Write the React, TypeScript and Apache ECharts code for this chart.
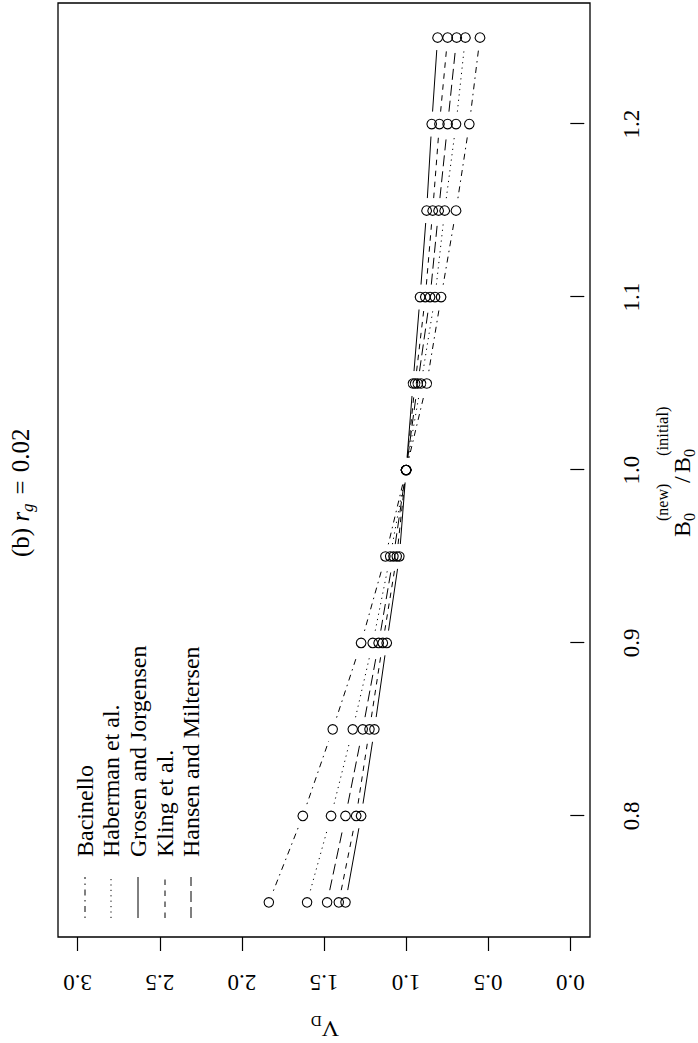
import React, { useEffect, useRef } from "react";
import * as echarts from "echarts";

// B0(new)/B0(initial) ratios on the horizontal axis
const ratio = [0.75, 0.8, 0.85, 0.9, 0.95, 1.0, 1.05, 1.1, 1.15, 1.2, 1.25];

// V_D for each model
const bacinello = [1.836, 1.629, 1.447, 1.274, 1.126, 1.0, 0.874, 0.787, 0.696, 0.615, 0.55];
const haberman = [1.603, 1.457, 1.325, 1.203, 1.097, 1.0, 0.909, 0.824, 0.765, 0.696, 0.639];
const grosen = [1.369, 1.274, 1.193, 1.118, 1.041, 1.0, 0.958, 0.915, 0.875, 0.844, 0.808];
const kling = [1.41, 1.304, 1.223, 1.142, 1.057, 1.0, 0.945, 0.883, 0.838, 0.797, 0.747];
const hansen = [1.481, 1.369, 1.264, 1.167, 1.077, 1.0, 0.929, 0.854, 0.802, 0.747, 0.692];

const modelNames = ["Bacinello", "Haberman et al.", "Grosen and Jorgensen", "Kling et al.", "Hansen and Miltersen"];

const xTicks = [0.8, 0.9, 1.0, 1.1, 1.2];
const yTicks = [0, 0.5, 1.0, 1.5, 2.0, 2.5, 3.0];

const FONT = "'Liberation Serif', 'Times New Roman', serif";
const GAP = 12.5; // line gap around each point (type "b")

// Chart is laid out landscape, then the whole page is turned a quarter turn
const CW = 1043;
const CH = 698;

const dashes: (number[] | null)[] = [
  [1.5, 4.5, 6, 4.5], // dot-dash
  [1.2, 4.2], // dotted
  null, // solid
  [5.5, 5.5], // dashed
  [11, 5], // long dash
];

function modelSeries(name: string, values: number[], dash: number[] | null) {
  const pts = ratio.map((r, i) => [r, values[i]]);
  return {
    type: "custom",
    name,
    coordinateSystem: "cartesian2d",
    data: pts,
    encode: { x: 0, y: 1 },
    silent: true,
    renderItem: (params: any, api: any) => {
      const i = params.dataIndex;
      const p = api.coord([api.value(0), api.value(1)]);
      const children: any[] = [
        {
          type: "circle",
          shape: { cx: p[0], cy: p[1], r: 4.8 },
          style: { fill: "none", stroke: "#000", lineWidth: 1.1 },
        },
      ];
      if (i < pts.length - 1) {
        const q = api.coord(pts[i + 1]);
        const dx = q[0] - p[0];
        const dy = q[1] - p[1];
        const len = Math.hypot(dx, dy);
        if (len > 2 * GAP) {
          const ux = dx / len;
          const uy = dy / len;
          children.push({
            type: "line",
            shape: {
              x1: p[0] + ux * GAP,
              y1: p[1] + uy * GAP,
              x2: q[0] - ux * GAP,
              y2: q[1] - uy * GAP,
            },
            style: { stroke: "#000", lineWidth: 1, lineDash: dash || undefined, fill: null },
          });
        }
      }
      return { type: "group", children };
    },
  };
}

function legendGraphics() {
  const rows = [85, 111, 138, 165, 191];
  const els: any[] = [];
  modelNames.forEach((n, i) => {
    els.push({
      type: "line",
      shape: { x1: 125, y1: rows[i], x2: 166, y2: rows[i] },
      style: { stroke: "#000", lineWidth: 1, lineDash: dashes[i] || undefined },
      silent: true,
    });
    els.push(txt(n, 186, rows[i], 24));
  });
  return els;
}

function txt(text: string, x: number, y: number, size: number, rotation = 0) {
  return {
    type: "text",
    x,
    y,
    rotation,
    silent: true,
    style: {
      text,
      font: `${size}px ${FONT}`,
      fill: "#000",
      align: "left",
      verticalAlign: "middle",
    },
  };
}

export default function App() {
  const ref = useRef<HTMLDivElement>(null);

  useEffect(() => {
    if (!ref.current) return;
    const chart = echarts.init(ref.current, null, { renderer: "svg" });
    const seriesValues = [bacinello, haberman, grosen, kling, hansen];

    chart.setOption({
      animation: false,
      backgroundColor: "#fff",
      grid: {
        left: 106,
        right: 3,
        top: 58,
        bottom: 108,
        show: true,
        borderColor: "#000",
        borderWidth: 1.3,
        containLabel: false,
        outerBoundsMode: "none",
      },
      xAxis: {
        type: "value",
        min: 0.73,
        max: 1.27,
        axisLine: { show: false },
        splitLine: { show: false },
        axisTick: {
          show: true,
          customValues: xTicks,
          length: 14,
          lineStyle: { color: "#000", width: 1.2 },
        },
        axisLabel: {
          customValues: xTicks,
          formatter: (v: number) => v.toFixed(1),
          fontFamily: FONT,
          fontSize: 23,
          color: "#000",
          margin: 30,
        },
      },
      yAxis: {
        type: "value",
        min: -0.12,
        max: 3.12,
        axisLine: { show: false },
        splitLine: { show: false },
        axisTick: {
          show: true,
          customValues: yTicks,
          length: 14,
          lineStyle: { color: "#000", width: 1.2 },
        },
        axisLabel: {
          customValues: yTicks,
          formatter: (v: number) => v.toFixed(1),
          fontFamily: FONT,
          fontSize: 23,
          color: "#000",
          rotate: 90,
          margin: 34,
        },
      },
      graphic: [
        // title
        {
          type: "text",
          x: 486,
          y: 20,
          silent: true,
          style: {
            text: "{n|(b) }{i|r}{s|g}{e|=}{n|0.02}",
            align: "left",
            verticalAlign: "middle",
            fill: "#000",
            rich: {
              n: { fontFamily: FONT, fontSize: 25, lineHeight: 32, fill: "#000" },
              i: { fontFamily: FONT, fontSize: 25, fontStyle: "italic", lineHeight: 32, fill: "#000" },
              s: { fontFamily: FONT, fontSize: 17, fontStyle: "italic", verticalAlign: "bottom", lineHeight: 18, fill: "#000" },
              e: { fontFamily: FONT, fontSize: 25, lineHeight: 32, padding: [0, 8, 0, 9], fill: "#000" },
            },
          },
        },
        // y-axis title V_D
        {
          type: "text",
          x: 14,
          y: 339,
          rotation: Math.PI / 2,
          silent: true,
          style: {
            text: "{v|V}{d|D}",
            align: "left",
            verticalAlign: "middle",
            fill: "#000",
            rich: {
              v: { fontFamily: FONT, fontSize: 24, lineHeight: 32, fill: "#000" },
              d: { fontFamily: FONT, fontSize: 15, verticalAlign: "bottom", lineHeight: 17, fill: "#000" },
            },
          },
        },
        // x-axis title B0(new) / B0(initial)
        txt("B", 506, 682, 24),
        txt("0", 522, 689, 16),
        txt("(new)", 522, 662, 16),
        txt("/", 560, 682, 24),
        txt("B", 570, 682, 24),
        txt("0", 586, 689, 16),
        txt("(initial)", 587, 662, 16.5),
        ...legendGraphics(),
      ],
      series: modelNames.map((n, i) => modelSeries(n, seriesValues[i], dashes[i])),
    });

    return () => chart.dispose();
  }, []);

  return (
    <div
      style={{
        position: "fixed",
        left: 0,
        top: 0,
        width: CH,
        height: CW,
        overflow: "hidden",
        background: "#fff",
      }}
    >
      <div
        ref={ref}
        style={{
          position: "absolute",
          left: 0,
          top: 0,
          width: CW,
          height: CH,
          transformOrigin: "0 0",
          transform: `translateY(${CW}px) rotate(-90deg)`,
        }}
      />
    </div>
  );
}
